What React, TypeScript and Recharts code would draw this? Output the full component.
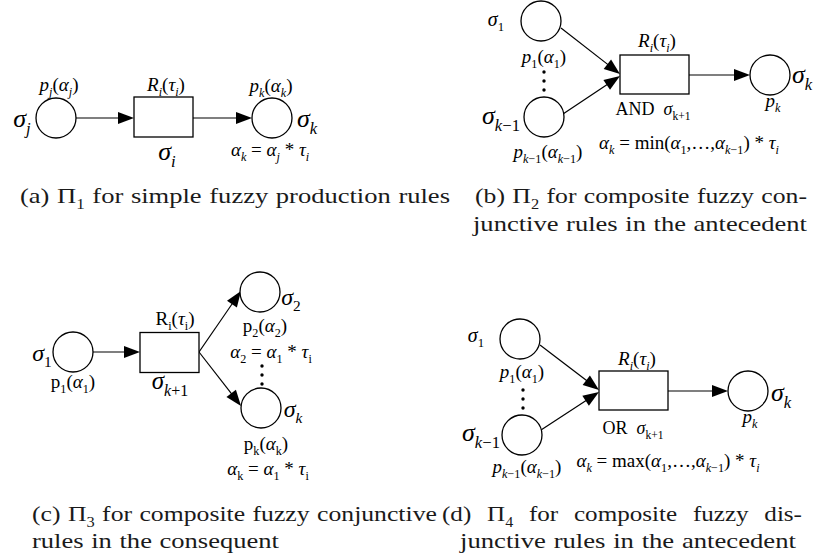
import React from 'react';
import { ScatterChart, Scatter, XAxis, YAxis, ReferenceLine } from 'recharts';

const W = 831;
const H = 560;
const FONT = '"Liberation Serif", "Times New Roman", Times, serif';

// ---- places (circles): centre points ----
const places = [
  { x: 56, y: 118 }, { x: 272, y: 118 },
  { x: 541, y: 21 }, { x: 544, y: 117 }, { x: 770, y: 75 },
  { x: 73, y: 352 }, { x: 260, y: 292 }, { x: 261, y: 408 },
  { x: 520, y: 339 }, { x: 522, y: 435 }, { x: 748, y: 391 },
];

// ---- transitions (boxes): centre points, kind = narrow / wide ----
const transitions = [
  { x: 163.5, y: 117, kind: 'narrow' },
  { x: 654.5, y: 74.5, kind: 'wide' },
  { x: 169.5, y: 352.5, kind: 'narrow' },
  { x: 633.5, y: 390.5, kind: 'wide' },
];

// ---- arcs (arrows): from -> to ----
const arcs = [
  { x1: 76, y1: 118, x2: 134, y2: 118 },
  { x1: 193, y1: 118, x2: 252, y2: 118 },
  { x1: 561, y1: 28, x2: 620, y2: 74 },
  { x1: 563, y1: 114, x2: 620, y2: 76 },
  { x1: 689, y1: 75, x2: 750, y2: 75 },
  { x1: 93, y1: 352, x2: 140, y2: 352 },
  { x1: 199, y1: 352, x2: 241, y2: 291 },
  { x1: 199, y1: 352, x2: 241, y2: 406 },
  { x1: 540, y1: 345, x2: 599, y2: 390 },
  { x1: 541, y1: 430, x2: 599, y2: 392 },
  { x1: 668, y1: 391, x2: 728, y2: 391 },
];

// ---- vertical ellipsis dots ----
const dots = [
  { x: 544, y: 72 }, { x: 544, y: 81 }, { x: 544, y: 90 },
  { x: 262, y: 366 }, { x: 262, y: 375 }, { x: 262, y: 384 },
  { x: 523, y: 390 }, { x: 523, y: 399 }, { x: 523, y: 408 },
];

// ---- labels (x = centre, y = baseline) ----
const labels = [
  // (a)
  { x: 22, y: 127, t: 'σ_{j}', fs: 26, it: true },
  { x: 59, y: 91, t: 'p_{j}(α_{j})', fs: 19, it: true },
  { x: 166, y: 91, t: 'R_{i}(τ_{i})', fs: 19, it: true },
  { x: 167, y: 160, t: 'σ_{i}', fs: 26, it: true },
  { x: 271, y: 92, t: 'p_{k}(α_{k})', fs: 19, it: true },
  { x: 307, y: 127, t: 'σ_{k}', fs: 26, it: true },
  { x: 270, y: 156, t: 'α_{k} = α_{j} * τ_{i}', fs: 19, it: true },
  // (b)
  { x: 496, y: 26, t: 'σ_{1}', fs: 20, it: true },
  { x: 544, y: 63, t: 'p_{1}(α_{1})', fs: 19, it: true },
  { x: 501, y: 124, t: 'σ_{k−1}', fs: 26, it: true },
  { x: 548, y: 158, t: 'p_{k−1}(α_{k−1})', fs: 19, it: true },
  { x: 657, y: 47, t: 'R_{i}(τ_{i})', fs: 19, it: true },
  { x: 802, y: 83, t: 'σ_{k}', fs: 26, it: true },
  { x: 773, y: 107, t: 'p_{k}', fs: 19, it: true },
  { x: 653, y: 115, t: 'AND  σ_{k+1}', fs: 18, it: false },
  { x: 689, y: 149, t: 'α_{k} = min(α_{1},…,α_{k−1}) * τ_{i}', fs: 19, it: true },
  // (c)
  { x: 42, y: 361, t: 'σ_{1}', fs: 24, it: true },
  { x: 73, y: 388, t: 'p_{1}(α_{1})', fs: 19, it: false },
  { x: 175, y: 325, t: 'R_{i}(τ_{i})', fs: 19, it: false },
  { x: 170, y: 389, t: 'σ_{k+1}', fs: 25, it: true },
  { x: 291, y: 305, t: 'σ_{2}', fs: 24, it: true },
  { x: 265, y: 332, t: 'p_{2}(α_{2})', fs: 19, it: false },
  { x: 271, y: 358, t: 'α_{2} = α_{1} * τ_{i}', fs: 19, it: false },
  { x: 293, y: 417, t: 'σ_{k}', fs: 24, it: true },
  { x: 266, y: 450, t: 'p_{k}(α_{k})', fs: 19, it: false },
  { x: 268, y: 475, t: 'α_{k} = α_{1} * τ_{i}', fs: 19, it: false },
  // (d)
  { x: 476, y: 342, t: 'σ_{1}', fs: 20, it: true },
  { x: 522, y: 378, t: 'p_{1}(α_{1})', fs: 19, it: true },
  { x: 481, y: 441, t: 'σ_{k−1}', fs: 26, it: true },
  { x: 527, y: 473, t: 'p_{k−1}(α_{k−1})', fs: 19, it: true },
  { x: 637, y: 365, t: 'R_{i}(τ_{i})', fs: 19, it: true },
  { x: 781, y: 401, t: 'σ_{k}', fs: 26, it: true },
  { x: 750, y: 423, t: 'p_{k}', fs: 19, it: true },
  { x: 633, y: 434, t: 'OR  σ_{k+1}', fs: 18, it: false },
  { x: 668, y: 467, t: 'α_{k} = max(α_{1},…,α_{k−1}) * τ_{i}', fs: 19, it: true },
];

// ---- captions (x = left, y = baseline, len = line width, just = justified) ----
const captions = [
  { x: 20, y: 203, t: '(a) Π_{1} for simple fuzzy production rules', len: 430, just: false },
  { x: 475, y: 203, t: '(b) Π_{2} for composite fuzzy con-', len: 332, just: false },
  { x: 473, y: 231, t: 'junctive rules in the antecedent', len: 334, just: false },
  { x: 32, y: 521, t: '(c) Π_{3} for composite fuzzy conjunctive', len: 405, just: false },
  { x: 32, y: 548, t: 'rules in the consequent', len: 247, just: false },
  { x: 442, y: 521, t: '(d) Π_{4} for composite fuzzy dis-', len: 360, just: true },
  { x: 460, y: 548, t: 'junctive rules in the antecedent', len: 336, just: false },
];

const BOX = { narrow: { w: 59, h: 40 }, wide: { w: 69, h: 39 } } as const;
const R = 20;
const CAP_FS = 22;
const CAP_G = 1.14;
const SUB = 0.64;

type Seg = { text: string; sub: boolean };
function parse(t: string): Seg[] {
  const out: Seg[] = [];
  let buf = '';
  let i = 0;
  while (i < t.length) {
    const c = t[i];
    if (c === '_') {
      if (buf) { out.push({ text: buf, sub: false }); buf = ''; }
      if (t[i + 1] === '{') {
        const j = t.indexOf('}', i + 2);
        out.push({ text: t.slice(i + 2, j), sub: true });
        i = j + 1;
      } else {
        out.push({ text: t[i + 1], sub: true });
        i += 2;
      }
    } else {
      buf += c;
      i++;
    }
  }
  if (buf) out.push({ text: buf, sub: false });
  return out;
}

const isLatin = (c: string) => /[A-Za-z]/.test(c);
const isGreek = (c: string) => /[α-ω]/.test(c);

function charItalic(s: string, idx: number, it: boolean, sub: boolean) {
  const c = s[idx];
  if (isGreek(c)) return true;
  if (!isLatin(c)) return false;
  if (!it) return false;
  if (sub) return true;
  let a = idx, b = idx;
  while (a > 0 && isLatin(s[a - 1])) a--;
  while (b < s.length - 1 && isLatin(s[b + 1])) b++;
  return b - a + 1 < 2;
}

function richSpans(t: string, fs: number, it: boolean, upright = false) {
  const segs = parse(t);
  const spans: React.ReactNode[] = [];
  const shift = fs * 0.27;
  let level = 0;
  let k = 0;
  segs.forEach((sg) => {
    const target = sg.sub ? 1 : 0;
    let cur = '';
    let curIt: boolean | null = null;
    const flush = () => {
      if (!cur) return;
      const dy = (target - level) * shift;
      level = target;
      spans.push(
        <tspan key={k++} dy={dy || undefined} fontSize={sg.sub ? fs * SUB : fs}
          fontStyle={curIt ? 'italic' : 'normal'}>
          {cur}
        </tspan>
      );
      cur = '';
    };
    for (let i = 0; i < sg.text.length; i++) {
      const itc = upright ? false : charItalic(sg.text, i, it, sg.sub);
      if (curIt !== null && itc !== curIt) flush();
      curIt = itc;
      cur += sg.text[i];
    }
    flush();
  });
  return spans;
}

let ctx: CanvasRenderingContext2D | null = null;
function measureRich(t: string, fs: number) {
  if (!ctx) ctx = document.createElement('canvas').getContext('2d');
  if (!ctx) return t.length * fs * 0.45;
  let w = 0;
  parse(t).forEach((sg) => {
    ctx!.font = `${sg.sub ? fs * SUB : fs}px "Liberation Serif"`;
    w += ctx!.measureText(sg.text).width;
  });
  return w;
}

const PlaceShape = (p: any) => (
  <circle cx={p.cx} cy={p.cy} r={R} fill="#fff" stroke="#000" strokeWidth={1.3} />
);

const TransitionShape = (p: any) => {
  const b = BOX[p.payload.kind as 'narrow' | 'wide'];
  return (
    <rect x={p.cx - b.w / 2} y={p.cy - b.h / 2} width={b.w} height={b.h}
      fill="#fff" stroke="#000" strokeWidth={1.3} />
  );
};

const DotShape = (p: any) => <circle cx={p.cx} cy={p.cy} r={1.7} fill="#000" />;

const LabelShape = (p: any) => {
  const d = p.payload;
  return (
    <text x={p.cx} y={p.cy} textAnchor="middle" fontFamily={FONT} fontSize={d.fs}
      fill="#000" style={{ whiteSpace: 'pre' }}>
      {richSpans(d.t, d.fs, d.it)}
    </text>
  );
};

const CaptionShape = (p: any) => {
  const d = p.payload;
  const words: string[] = d.t.split(' ');
  const widths = words.map((w) => measureRich(w, CAP_FS));
  const sum = widths.reduce((a, b) => a + b, 0);
  const space = measureRich(' ', CAP_FS) * 1.15;
  let g = CAP_G;
  let gap = space;
  if (d.just && words.length > 1) {
    gap = (d.len / g - sum) / (words.length - 1);
  } else {
    g = d.len / (sum + space * (words.length - 1));
  }
  let xpos = 0;
  const items = words.map((w, i) => {
    const el = (
      <text key={i} x={xpos} y={0} fontFamily={FONT} fontSize={CAP_FS} fill="#1a1a1a"
        style={{ whiteSpace: 'pre' }}>
        {richSpans(w, CAP_FS, false, true)}
      </text>
    );
    xpos += widths[i] + gap;
    return el;
  });
  return <g transform={`translate(${p.cx},${p.cy}) scale(${g},1)`}>{items}</g>;
};

const ArrowShape = (p: any) => {
  const { x1, y1, x2, y2 } = p;
  const dx = x2 - x1, dy = y2 - y1;
  const L = Math.hypot(dx, dy) || 1;
  const ux = dx / L, uy = dy / L;
  const hl = 16, hw = 6;
  const bx = x2 - ux * hl, by = y2 - uy * hl;
  const pts = `${x2},${y2} ${bx - uy * hw},${by + ux * hw} ${bx + uy * hw},${by - ux * hw}`;
  return (
    <g>
      <line x1={x1} y1={y1} x2={bx + ux * 2} y2={by + uy * 2} stroke="#000" strokeWidth={1.2} />
      <polygon points={pts} fill="#000" />
    </g>
  );
};

export default function App() {
  return (
    <div style={{ position: 'absolute', left: 0, top: 0, width: W, height: H, background: '#fff' }}>
      <ScatterChart width={W} height={H} margin={{ top: 0, right: 0, bottom: 0, left: 0 }}>
        <XAxis type="number" dataKey="x" domain={[0, W]} allowDataOverflow hide />
        <YAxis type="number" dataKey="y" domain={[0, H]} allowDataOverflow reversed hide />
        {arcs.map((a, i) => (
          <ReferenceLine key={i} segment={[{ x: a.x1, y: a.y1 }, { x: a.x2, y: a.y2 }]}
            ifOverflow="visible" shape={ArrowShape} />
        ))}
        <Scatter data={places} shape={PlaceShape} isAnimationActive={false} />
        <Scatter data={transitions} shape={TransitionShape} isAnimationActive={false} />
        <Scatter data={dots} shape={DotShape} isAnimationActive={false} />
        <Scatter data={labels} shape={LabelShape} isAnimationActive={false} />
        <Scatter data={captions} shape={CaptionShape} isAnimationActive={false} />
      </ScatterChart>
    </div>
  );
}
